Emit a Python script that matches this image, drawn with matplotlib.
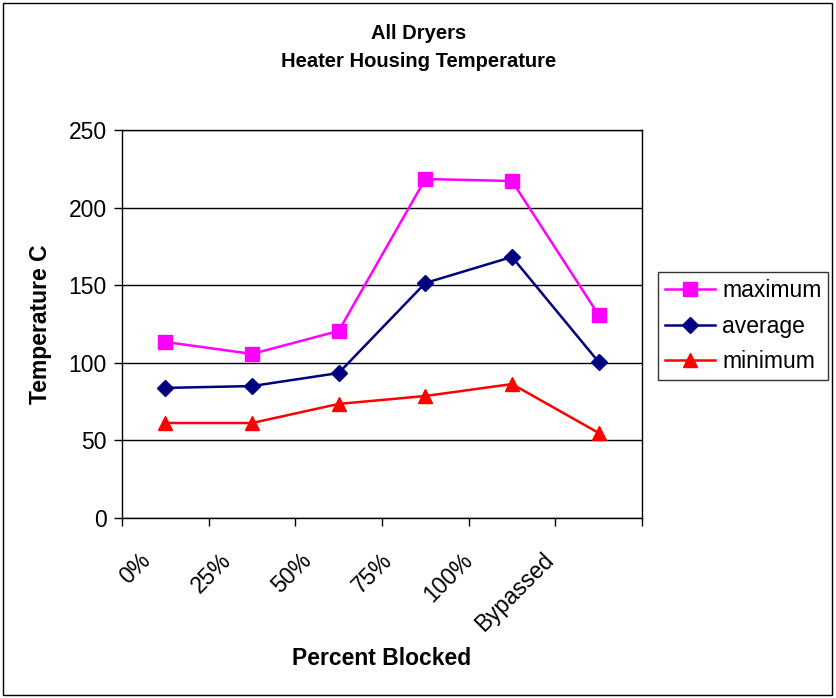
import matplotlib.pyplot as plt
import numpy as np
from matplotlib.patches import Rectangle
from matplotlib.transforms import ScaledTranslation

plt.rcParams['font.family'] = ['Liberation Sans', 'DejaVu Sans']

categories = ["0%", "25%", "50%", "75%", "100%", "Bypassed"]
maximum = [113.4, 105.7, 120.5, 218.4, 217.1, 130.8]
average = [83.8, 85.0, 93.4, 151.4, 168.2, 100.5]
minimum = [61.2, 61.2, 73.5, 78.6, 86.3, 54.8]

fig = plt.figure(figsize=(8.37, 6.98), dpi=100)
ax = fig.add_axes([0.1458, 0.2579, 0.6212, 0.5559])

x = np.arange(len(categories))
ax.plot(x, maximum, color="#ff00ff", marker="s", markersize=10, lw=1.8, label="maximum")
ax.plot(x, average, color="#000080", marker="D", markersize=8, lw=1.8, label="average")
ax.plot(x, minimum, color="#ff0000", marker="^", markersize=10, lw=1.8, label="minimum")

ax.set_xlim(-0.5, len(categories) - 0.5)
ax.set_ylim(0, 250)
ax.set_yticks(np.arange(0, 251, 50))
ax.yaxis.grid(True, color="black", lw=1)
ax.set_axisbelow(True)

# boundary ticks between categories, labels centred on each category
ax.set_xticks(np.arange(-0.5, len(categories), 1.0))
ax.set_xticklabels([])
ax.set_xticks(x, minor=True)
ax.set_xticklabels(categories, minor=True, rotation=45, ha="right",
                   rotation_mode="anchor", fontsize=16.5)
ax.tick_params(axis="x", which="minor", length=0, pad=22)
ax.tick_params(axis="both", which="major", direction="out", length=6, width=1, labelsize=16.5)
ax.tick_params(axis="y", pad=5)

# rotated labels drift left a little more for each category
for i, lab in enumerate(ax.get_xticklabels(minor=True)):
    dx = -(26 + 6.2 * i) / 100
    lab.set_transform(lab.get_transform() + ScaledTranslation(dx, 0, fig.dpi_scale_trans))

for s in ax.spines.values():
    s.set_linewidth(1)
    s.set_color("black")

ax.set_ylabel("Temperature C", fontsize=16.5, fontweight="bold", labelpad=12)
ax.set_xlabel("Percent Blocked", fontsize=16.5, fontweight="bold", labelpad=8)

fig.text(0.5, 0.965, "All Dryers\nHeater Housing Temperature", ha="center", va="top",
         fontsize=14.5, fontweight="bold", linespacing=1.55)

leg = fig.legend(loc="upper left", bbox_to_anchor=(0.786, 0.61), fontsize=16.5,
                 frameon=True, fancybox=False, edgecolor="black", handlelength=2.2,
                 borderpad=0.3, labelspacing=0.55, handletextpad=0.3, borderaxespad=0)
leg.get_frame().set_linewidth(1)

fig.patches.append(Rectangle((0.003, 0.005), 0.991, 0.99, transform=fig.transFigure,
                             fill=False, edgecolor="black", lw=1))

fig.savefig("out.png", dpi=100)
